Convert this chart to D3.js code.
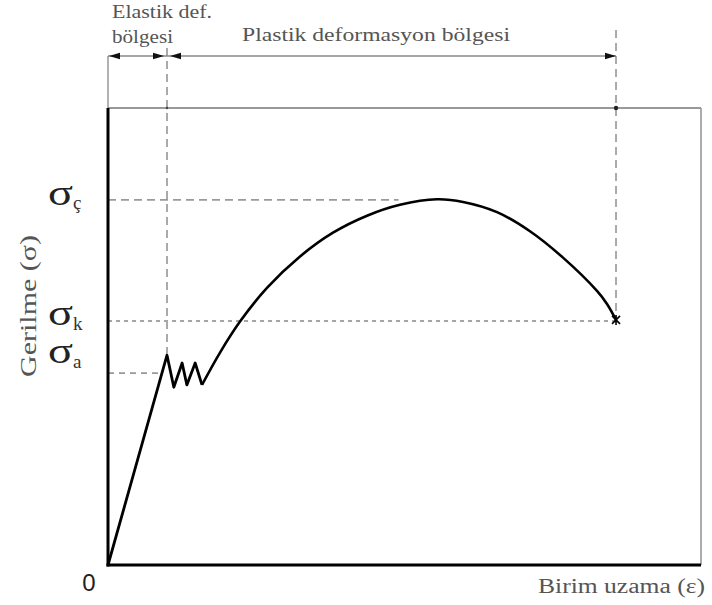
<!DOCTYPE html>
<html>
<head>
<meta charset="utf-8">
<script src="https://cdn.jsdelivr.net/npm/d3@7"></script>
<style>
  html, body { margin: 0; padding: 0; background: #fff; }
  svg { display: block; }
</style>
</head>
<body>
<svg id="chart" width="712" height="605"></svg>
<script>
// ---- data (strain, stress in arbitrary units) ----
const yieldStrain = [0, 9.95, 11.1, 12.5, 13.3, 14.7, 15.85];
const yieldStress = [0, 45.9, 38.9, 44.2, 39.4, 44.2, 39.4];

const plasticStrain = [15.85, 18.89, 22.26, 26.81, 32.38, 37.94, 43.68, 49.24, 55.48, 59.87, 65.6, 71.16, 76.73, 82.46, 84.15, 85.67];
const plasticStress = [39.4, 46.48, 53.26, 60.63, 67.51, 72.71, 76.43, 78.82, 80.02, 79.45, 77.22, 73.04, 67.26, 59.98, 57.13, 53.63];

const levelNames = ["ç", "k", "a"];
const levelValues = [79.9, 53.4, 42.0];
const levelEnds = [49.0, 85.7, 8.8];

const elasticLimit = 9.95;   // end of elastic region
const fractureStrain = 85.67; // fracture point
const fractureStress = 53.63;

const regionLabels = ["Elastik def.", "bölgesi", "Plastik deformasyon bölgesi"];
const xTitle = "Birim uzama (ε)";
const yTitle = "Gerilme (σ)";

// ---- scales ----
const svg = d3.select("#chart");
const x = d3.scaleLinear().domain([0, 100]).range([108, 701]);
const y = d3.scaleLinear().domain([0, 100]).range([565, 108]);

const serif = "Liberation Serif, Times New Roman, Times, serif";

// frame: top & right thin gray
svg.append("line").attr("x1", x(0)).attr("x2", x(100)).attr("y1", y(100)).attr("y2", y(100))
  .attr("stroke", "#777").attr("stroke-width", 1.6);
svg.append("line").attr("x1", x(100)).attr("x2", x(100)).attr("y1", y(100)).attr("y2", y(0))
  .attr("stroke", "#999").attr("stroke-width", 1.6);

// dashed reference levels
const dashStyles = ["8,5", "4,4", "6,5"];
const dashColors = ["#9a9a9a", "#888", "#999"];
levelValues.forEach((v, i) => {
  svg.append("line")
    .attr("x1", x(0)).attr("x2", x(levelEnds[i]))
    .attr("y1", y(v)).attr("y2", y(v))
    .attr("stroke", dashColors[i]).attr("stroke-width", i === 1 ? 1.5 : 1.8)
    .attr("stroke-dasharray", dashStyles[i]);
});

// vertical dashed lines
svg.append("line").attr("x1", x(elasticLimit)).attr("x2", x(elasticLimit))
  .attr("y1", 48).attr("y2", y(45.9))
  .attr("stroke", "#aaa").attr("stroke-width", 2).attr("stroke-dasharray", "8,5");
svg.append("line").attr("x1", x(fractureStrain)).attr("x2", x(fractureStrain))
  .attr("y1", 30).attr("y2", y(fractureStress))
  .attr("stroke", "#aaa").attr("stroke-width", 2).attr("stroke-dasharray", "8,5");

// dimension line
const dimY = 56;
svg.append("line").attr("x1", x(0)).attr("x2", x(fractureStrain)).attr("y1", dimY).attr("y2", dimY)
  .attr("stroke", "#888").attr("stroke-width", 1.5);
svg.append("line").attr("x1", x(0)).attr("x2", x(0)).attr("y1", dimY).attr("y2", y(100))
  .attr("stroke", "#888").attr("stroke-width", 1.3);

function arrow(tipX, dir) {
  const L = 11, H = 3.2;
  svg.append("path")
    .attr("d", `M${tipX},${dimY} L${tipX - dir * L},${dimY - H} L${tipX - dir * L},${dimY + H} Z`)
    .attr("fill", "#111");
}
arrow(x(0) + 1, -1);
arrow(x(elasticLimit) - 3, 1);
arrow(x(elasticLimit) + 3, -1);
arrow(x(fractureStrain), 1);

// small dots where dashed verticals meet the top frame
svg.append("circle").attr("cx", x(fractureStrain)).attr("cy", y(100)).attr("r", 2.2).attr("fill", "#222");
svg.append("circle").attr("cx", x(elasticLimit)).attr("cy", y(100)).attr("r", 1.2).attr("fill", "#444");

// curves
const lineLinear = d3.line().x(d => x(d[0])).y(d => y(d[1])).curve(d3.curveLinear);
const lineSmooth = d3.line().x(d => x(d[0])).y(d => y(d[1])).curve(d3.curveCatmullRom.alpha(0.5));

svg.append("path")
  .datum(d3.zip(yieldStrain, yieldStress))
  .attr("d", lineLinear)
  .attr("fill", "none").attr("stroke", "#000").attr("stroke-width", 2.8)
  .attr("stroke-linejoin", "round");

svg.append("path")
  .datum(d3.zip(plasticStrain, plasticStress))
  .attr("d", lineSmooth)
  .attr("fill", "none").attr("stroke", "#000").attr("stroke-width", 2.6);

// fracture mark
const fx = x(fractureStrain), fy = y(fractureStress);
svg.append("path")
  .attr("d", `M${fx - 4},${fy - 4}L${fx + 4},${fy + 4}M${fx + 4},${fy - 4}L${fx - 4},${fy + 4}M${fx},${fy - 5}L${fx},${fy + 5}`)
  .attr("stroke", "#000").attr("stroke-width", 1.6);

// axes: left & bottom thick black
svg.append("line").attr("x1", x(0)).attr("x2", x(0)).attr("y1", y(100)).attr("y2", y(0) + 1.5)
  .attr("stroke", "#000").attr("stroke-width", 3);
svg.append("line").attr("x1", x(0) - 1.5).attr("x2", x(100)).attr("y1", y(0)).attr("y2", y(0))
  .attr("stroke", "#000").attr("stroke-width", 3);

// level labels (sigma + subscript)
const sigmaBase = [205, 325, 363];
levelNames.forEach((s, i) => {
  svg.append("text")
    .attr("x", 48).attr("y", sigmaBase[i])
    .attr("font-family", serif).attr("font-size", 36)
    .attr("fill", "#222")
    .attr("textLength", 25).attr("lengthAdjust", "spacingAndGlyphs")
    .text("σ");
  svg.append("text")
    .attr("x", 73).attr("y", sigmaBase[i] + (i === 0 ? 4 : 5))
    .attr("font-family", serif).attr("font-size", 19)
    .attr("fill", "#333")
    .text(s);
});

// origin label
svg.append("text").attr("x", 89).attr("y", 591)
  .attr("text-anchor", "middle")
  .attr("font-family", "Liberation Sans, Arial, sans-serif").attr("font-size", 24)
  .attr("fill", "#222").text("0");

// region labels
svg.append("text").attr("x", 112).attr("y", 18)
  .attr("font-family", serif).attr("font-size", 18).attr("fill", "#555")
  .attr("textLength", 100).attr("lengthAdjust", "spacingAndGlyphs")
  .text(regionLabels[0]);
svg.append("text").attr("x", 112).attr("y", 43)
  .attr("font-family", serif).attr("font-size", 18).attr("fill", "#555")
  .attr("textLength", 61).attr("lengthAdjust", "spacingAndGlyphs")
  .text(regionLabels[1]);
svg.append("text").attr("x", 242).attr("y", 41)
  .attr("font-family", serif).attr("font-size", 18).attr("fill", "#555")
  .attr("textLength", 268).attr("lengthAdjust", "spacingAndGlyphs")
  .text(regionLabels[2]);

// axis titles
svg.append("text").attr("x", 538).attr("y", 593)
  .attr("font-family", serif).attr("font-size", 20).attr("fill", "#555")
  .attr("textLength", 167).attr("lengthAdjust", "spacingAndGlyphs")
  .text(xTitle);

svg.append("text")
  .attr("transform", "translate(36,377) rotate(-90)")
  .attr("font-family", serif).attr("font-size", 24).attr("fill", "#555")
  .attr("textLength", 142).attr("lengthAdjust", "spacingAndGlyphs")
  .text(yTitle);
</script>
</body>
</html>
